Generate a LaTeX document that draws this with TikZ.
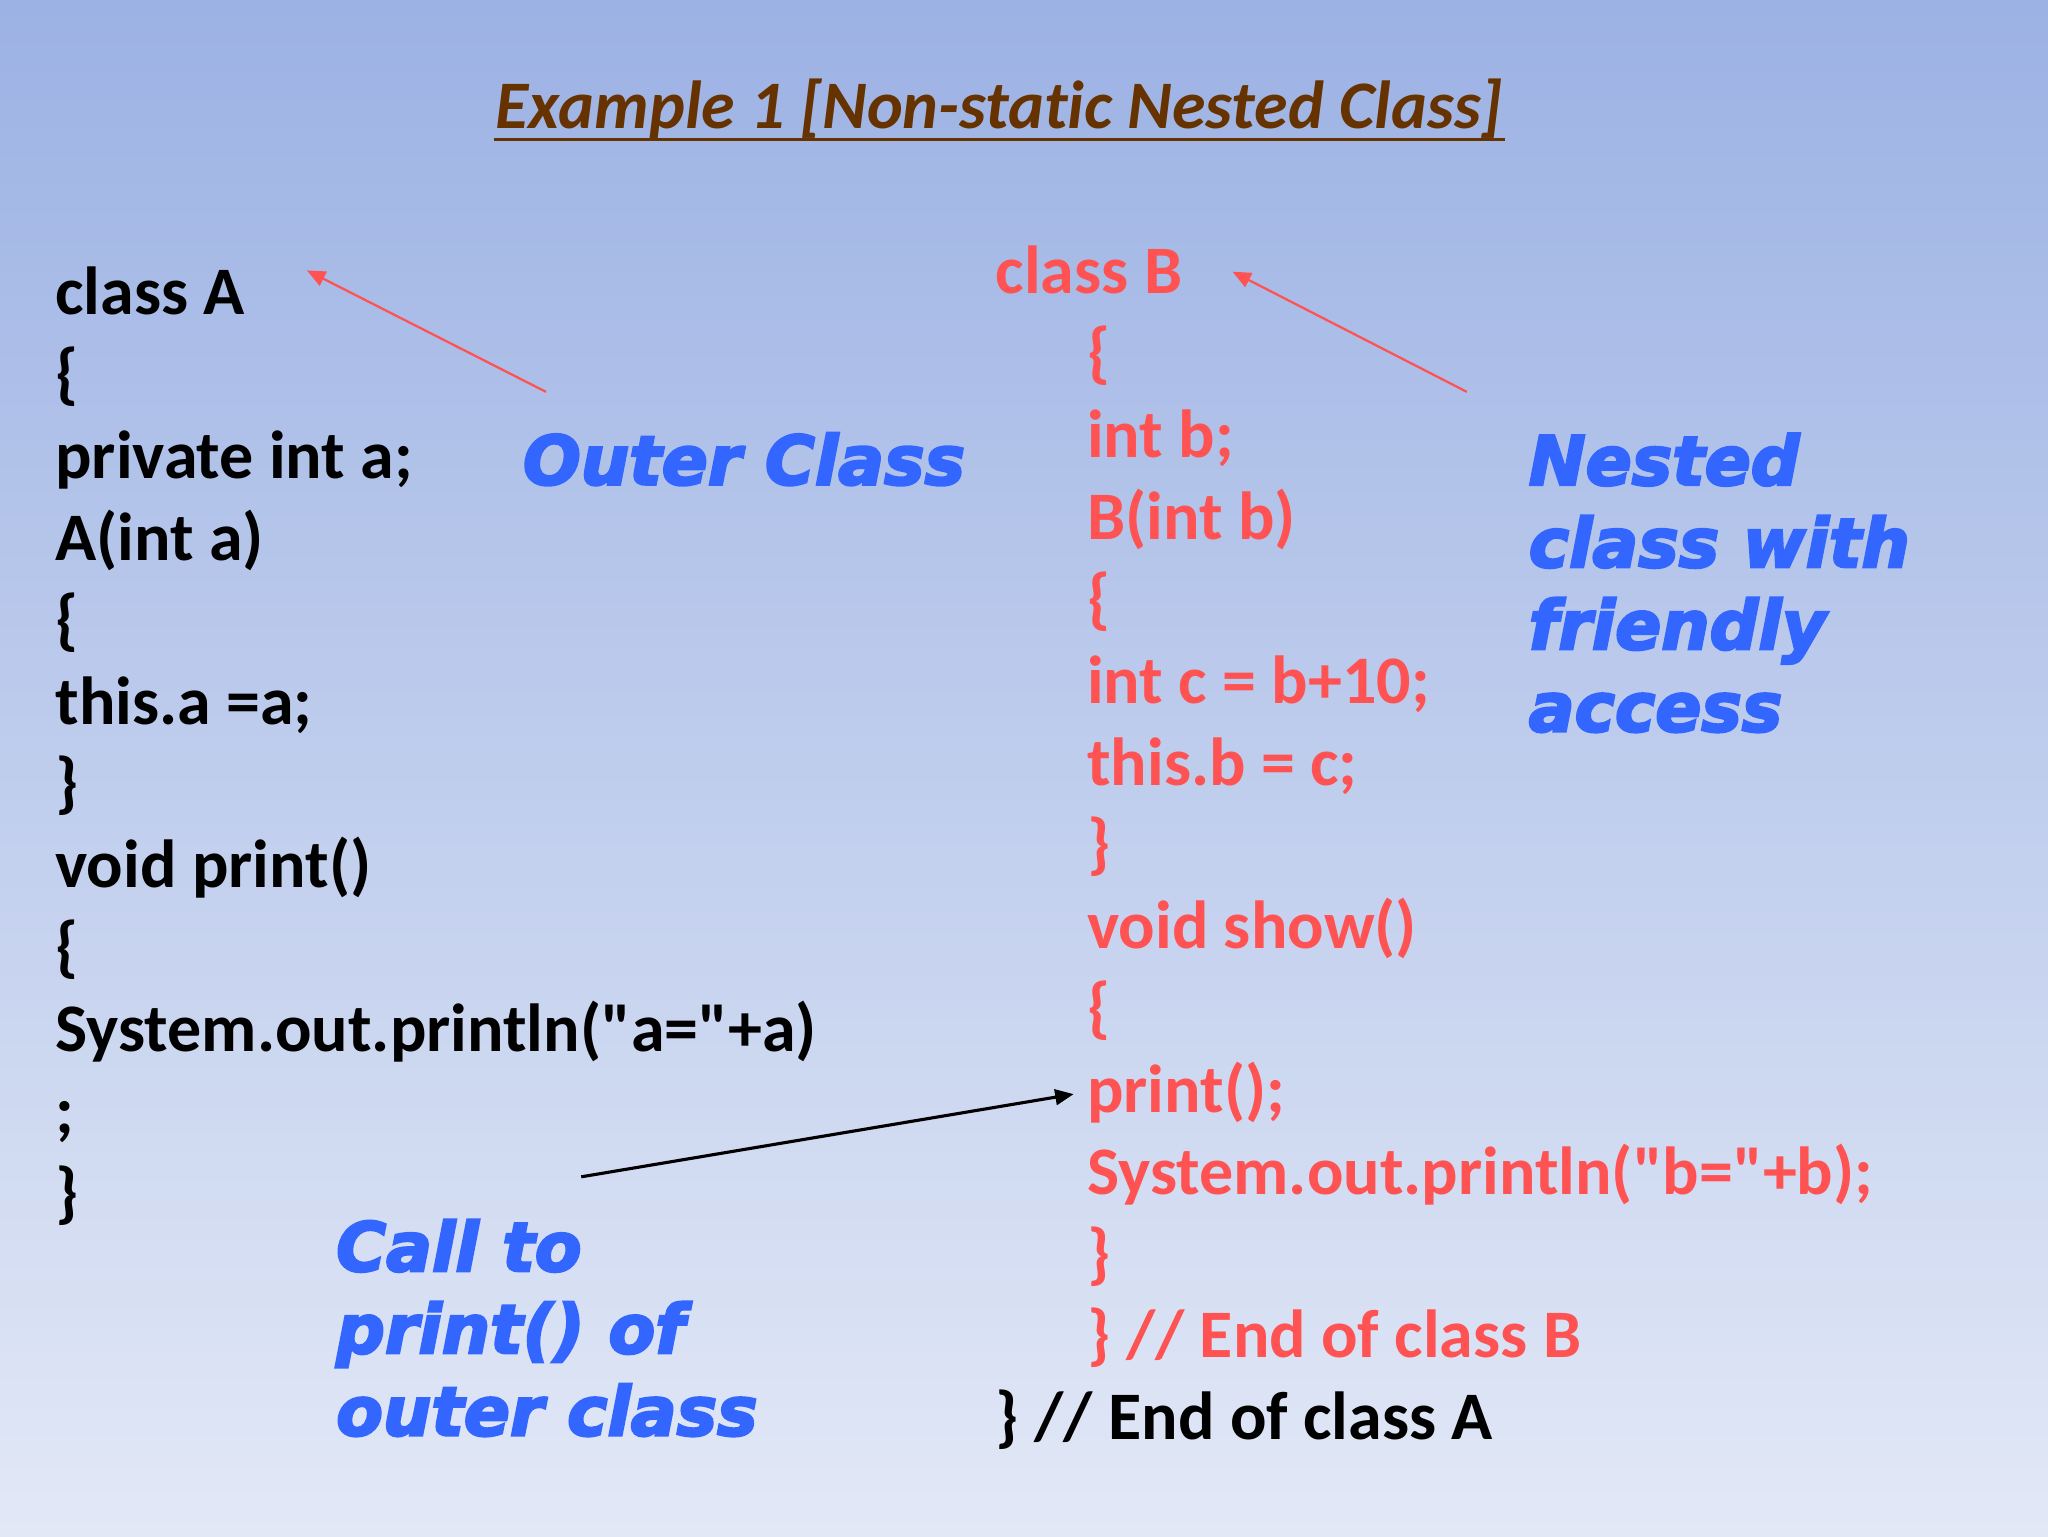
\documentclass[tikz,border=0pt]{standalone}
\usepackage{fontspec}
\setmainfont{Carlito}[Ligatures={NoCommon}]
\newfontfamily\notefont{DejaVu Sans}[FakeBold=3.5]
\usetikzlibrary{positioning,calc,arrows.meta}
\definecolor{bgtop}{RGB}{156,178,228}
\definecolor{bgbot}{RGB}{226,232,246}
\definecolor{titlebrown}{RGB}{102,51,0}
\definecolor{codered}{RGB}{255,82,82}
\definecolor{noteblue}{RGB}{51,102,255}
\begin{document}
\begin{tikzpicture}[x=0.0162cm, y=-0.0162cm, node distance=1.0155cm,
    codeline/.style={font=\fontsize{24}{29}\selectfont\bfseries, anchor=base west, inner sep=0pt},
    note/.style={font=\notefont\fontsize{24}{29}\selectfont\bfseries\itshape, text=noteblue, align=left, anchor=base west, inner sep=0pt}]
                \shade[top color=bgtop, bottom color=bgbot] (0,0) rectangle (1568,1176);

                % title
                \node[font=\fontsize{24}{29}\selectfont\bfseries\itshape, text=titlebrown, anchor=base, inner sep=0pt] (title) at (765,98) {Example 1 [Non-static Nested Class]};
                \draw[titlebrown, line width=1.2pt] (378,107) -- (1152,107);

                % class A
                \node[codeline] (a1) at (42,241) {class A};
                \node[codeline, below=of a1.base west, anchor=base west] (a2) {\{};
                \node[codeline, below=of a2.base west, anchor=base west] (a3) {private int a;};
                \node[codeline, below=of a3.base west, anchor=base west] (a4) {A(int a)};
                \node[codeline, below=of a4.base west, anchor=base west] (a5) {\{};
                \node[codeline, below=of a5.base west, anchor=base west] (a6) {this.a =a;};
                \node[codeline, below=of a6.base west, anchor=base west] (a7) {\}};
                \node[codeline, below=of a7.base west, anchor=base west] (a8) {void print()};
                \node[codeline, below=of a8.base west, anchor=base west] (a9) {\{};
                \node[codeline, below=of a9.base west, anchor=base west] (a10) {System.out.println(\textquotedbl a=\textquotedbl +a)};
                \node[codeline, below=of a10.base west, anchor=base west] (a11) {;};
                \node[codeline, below=of a11.base west, anchor=base west] (a12) {\}};

                % class B
                \node[codeline, text=codered] (b1) at (762,225) {class B};
                \node[codeline, text=codered, below=of b1.base west, anchor=base west, xshift=1.134cm] (b2) {\{};
                \node[codeline, text=codered, below=of b2.base west, anchor=base west] (b3) {int b;};
                \node[codeline, text=codered, below=of b3.base west, anchor=base west] (b4) {B(int b)};
                \node[codeline, text=codered, below=of b4.base west, anchor=base west] (b5) {\{};
                \node[codeline, text=codered, below=of b5.base west, anchor=base west] (b6) {int c = b+10;};
                \node[codeline, text=codered, below=of b6.base west, anchor=base west] (b7) {this.b = c;};
                \node[codeline, text=codered, below=of b7.base west, anchor=base west] (b8) {\}};
                \node[codeline, text=codered, below=of b8.base west, anchor=base west] (b9) {void show()};
                \node[codeline, text=codered, below=of b9.base west, anchor=base west] (b10) {\{};
                \node[codeline, text=codered, below=of b10.base west, anchor=base west] (b11) {print();};
                \node[codeline, text=codered, below=of b11.base west, anchor=base west] (b12) {System.out.println(\textquotedbl b=\textquotedbl +b);};
                \node[codeline, text=codered, below=of b12.base west, anchor=base west] (b13) {\}};
                \node[codeline, text=codered, below=of b13.base west, anchor=base west] (b14) {\} // End of class B};
                \node[codeline, below=of b14.base west, anchor=base west, xshift=-1.134cm] (b15) {\} // End of class A};

                % notes (base = last line)
                \node[note] (outer) at (400,371) {Outer Class};
                \node[note] (nested) at (1170,560) {Nested\\class with\\friendly\\access};
                \node[note] (call) at (257,1099) {Call to\\print() of\\outer class};

                \draw[codered, line width=0.8pt, -{Triangle[length=6.5pt,width=5.5pt]}] ($(outer.base west)+(18,-71)$) -- ($(a1.base east)+(47,-34)$);
                \draw[codered, line width=0.8pt, -{Triangle[length=6.5pt,width=5.5pt]}] ($(nested.base west)+(-47,-260)$) -- ($(b1.base east)+(38,-17)$);
                \draw[black, line width=1.1pt, -{Triangle[length=6.5pt,width=5.5pt]}] ($(call.base west)+(188,-198)$) -- ($(b11.base west)+(-10,-14)$);
            \end{tikzpicture}
\end{document}
